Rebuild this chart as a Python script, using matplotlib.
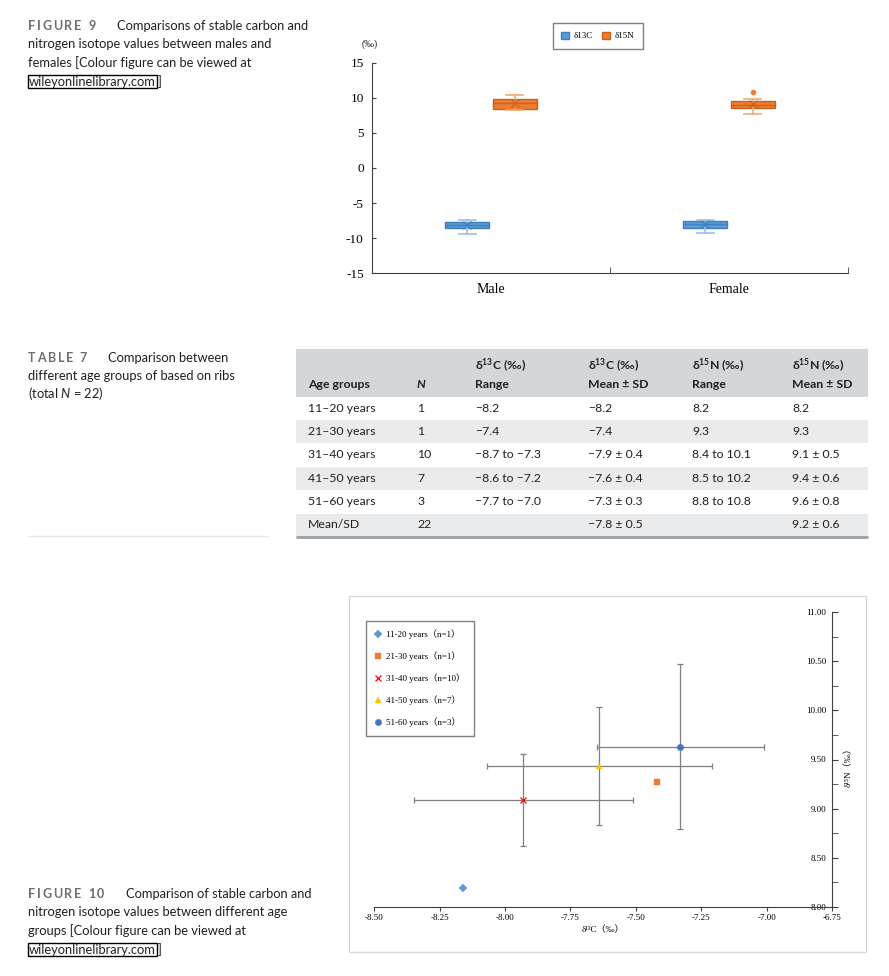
import numpy as np
import matplotlib
matplotlib.use("Agg")
import matplotlib.pyplot as plt
from matplotlib.patches import Rectangle, Patch
from matplotlib.ticker import FormatStrFormatter, MultipleLocator, FixedLocator

plt.rcParams['axes.unicode_minus'] = False
plt.rcParams['mathtext.fontset'] = 'custom'
plt.rcParams['mathtext.rm'] = 'Lato'
plt.rcParams['mathtext.it'] = 'Lato:italic'
plt.rcParams['mathtext.bf'] = 'Lato:bold'

W, H = 889, 976
SANS = ['Lato', 'DejaVu Sans']
SERIF = ['Liberation Serif', 'Noto Sans CJK SC', 'DejaVu Serif']
INK = '#231f20'
BLUE, ORANGE = '#5B9BD5', '#ED7D31'

# ── Figure 9: box stats per sex ──
sexes = ["Male", "Female"]
c13_q1 = [-8.59, -8.50]
c13_med = [-8.12, -7.98]
c13_q3 = [-7.65, -7.59]
c13_lo = [-9.40, -9.22]
c13_hi = [-7.45, -7.45]
c13_mean = [-8.10, -8.02]
n15_q1 = [8.45, 8.59]
n15_med = [9.30, 9.02]
n15_q3 = [9.79, 9.50]
n15_lo = [8.22, 7.65]
n15_hi = [10.44, 9.79]
n15_mean = [9.21, 9.10]
n15_fliers = [[], [10.83]]

# ── Table 7 ──
age_groups = ["11–20 years", "21–30 years", "31–40 years", "41–50 years", "51–60 years", "Mean/SD"]
n_vals = ["1", "1", "10", "7", "3", "22"]
c_range = ["−8.2", "−7.4", "−8.7 to −7.3", "−8.6 to −7.2", "−7.7 to −7.0", ""]
c_mean = ["−8.2", "−7.4", "−7.9 ± 0.4", "−7.6 ± 0.4", "−7.3 ± 0.3", "−7.8 ± 0.5"]
n_range = ["8.2", "9.3", "8.4 to 10.1", "8.5 to 10.2", "8.8 to 10.8", ""]
n_mean = ["8.2", "9.3", "9.1 ± 0.5", "9.4 ± 0.6", "9.6 ± 0.8", "9.2 ± 0.6"]

# ── Figure 10: group means and SDs ──
grp_labels = ["11-20 years（n=1）", "21-30 years（n=1）", "31-40 years（n=10）",
              "41-50 years（n=7）", "51-60 years（n=3）"]
grp_c13 = [-8.16, -7.42, -7.93, -7.64, -7.33]
grp_n15 = [8.19, 9.27, 9.09, 9.435, 9.63]
grp_c13_sd = [0, 0, 0.42, 0.43, 0.32]
grp_n15_sd = [0, 0, 0.47, 0.60, 0.84]
grp_markers = ['D', 's', 'x', '^', 'o']
grp_colors = ['#5B9BD5', '#ED7D31', '#FF0000', '#FFC000', '#4472C4']

fig = plt.figure(figsize=(W / 100, H / 100), dpi=100)
fig.patch.set_facecolor('white')

# page layer in pixel coordinates
ax0 = fig.add_axes([0, 0, 1, 1])
ax0.set_xlim(0, W)
ax0.set_ylim(H, 0)
ax0.axis('off')

CAP_FS = 9.3


def spaced(x, y, s, gap=1.3, **kw):
    t = ax0.text(x, y, s[0], va='center', ha='left', **kw)
    for ch in s[1:]:
        t = ax0.annotate(ch, xy=(1, 0.5), xycoords=t, xytext=(gap, 0),
                         textcoords='offset points', va='center', ha='left', **kw)
    return t


def caption(y, label, first, x_first, lines, step=18.5):
    spaced(28, y, label, family=SANS, fontsize=9, fontweight='bold', color='#6d6e71')
    ax0.text(x_first, y, first, va='center', ha='left', family=SANS, fontsize=CAP_FS, color=INK)
    for k, ln in enumerate(lines, start=1):
        ax0.text(28, y + k * step, ln, va='center', ha='left', family=SANS, fontsize=CAP_FS,
                 color=INK)


caption(26, "FIGURE 9", "Comparisons of stable carbon and", 117,
        ["nitrogen isotope values between males and",
         "females [Colour figure can be viewed at"])
caption(894, "FIGURE 10", "Comparison of stable carbon and", 126,
        ["nitrogen isotope values between different age",
         "groups [Colour figure can be viewed at"])
caption(358, "TABLE 7", "Comparison between", 108,
        ["different age groups of based on ribs", "(total $N$ = 22)"], step=18)

for yy in (81.5, 949.5):
    t = ax0.text(29, yy, "wileyonlinelibrary.com", va='center', ha='left', family=SANS,
                 fontsize=CAP_FS, color=INK,
                 bbox=dict(boxstyle='square,pad=0.05', facecolor='none', edgecolor='black', lw=1))
    ax0.annotate("]", xy=(1, 0.5), xycoords=t, xytext=(1, 0), textcoords='offset points',
                 va='center', ha='left', family=SANS, fontsize=CAP_FS, color=INK)

# ── Table 7 drawn on the page layer ──
tl, tr = 296, 868
ax0.add_patch(Rectangle((tl, 349), tr - tl, 47.5, facecolor='#d4d7da', edgecolor='none'))
row_h = 23.4
for i in range(len(age_groups)):
    if i % 2 == 1:
        ax0.add_patch(Rectangle((tl, 396.5 + i * row_h), tr - tl, row_h,
                                facecolor='#e9ebed', edgecolor='none'))
ax0.plot([tl, tr], [537, 537], color='#9aa0a6', lw=2, solid_capstyle='butt')
ax0.plot([28, 268], [536, 536], color='#e8e8e8', lw=1)

TAB_FS = 8.8
col_x = [308, 417, 475, 588, 692, 792]
hdr1 = ["", "", r"δ$^{\mathbf{13}}$C (‰)", r"δ$^{\mathbf{13}}$C (‰)",
        r"δ$^{\mathbf{15}}$N (‰)", r"δ$^{\mathbf{15}}$N (‰)"]
hdr2 = ["Age groups", "N", "Range", "Mean ± SD", "Range", "Mean ± SD"]
for x, h1, h2 in zip(col_x, hdr1, hdr2):
    ax0.text(x, 366, h1, va='center', ha='left', family=SANS, fontsize=TAB_FS,
             fontweight='bold', color=INK)
    ax0.text(x, 384, h2, va='center', ha='left', family=SANS, fontsize=TAB_FS,
             fontweight='bold', color=INK, style='italic' if h2 == "N" else 'normal')
columns = [age_groups, n_vals, c_range, c_mean, n_range, n_mean]
for i in range(len(age_groups)):
    for x, col in zip(col_x, columns):
        ax0.text(x, 408 + i * row_h, col[i], va='center', ha='left', family=SANS,
                 fontsize=TAB_FS, color=INK)

# figure 10 frame
ax0.add_patch(Rectangle((349, 596), 866 - 349, 952 - 596, facecolor='none',
                        edgecolor='#d9d9d9', lw=1))

# ── Figure 9: box plot ──
ax1 = fig.add_axes([372 / W, 1 - 273.3 / H, 476 / W, 210.6 / H])
ax1.patch.set_alpha(0)
pos = np.arange(1, len(sexes) + 1)


def stats(q1, med, q3, lo, hi, mean, fl=None):
    return [dict(q1=q1[i], med=med[i], q3=q3[i], whislo=lo[i], whishi=hi[i], mean=mean[i],
                 fliers=(fl[i] if fl else [])) for i in range(len(q1))]


for st, off, fc, ec, wc in [
        (stats(c13_q1, c13_med, c13_q3, c13_lo, c13_hi, c13_mean), -0.1, BLUE, '#3f7fc0', '#9cbfe3'),
        (stats(n15_q1, n15_med, n15_q3, n15_lo, n15_hi, n15_mean, n15_fliers), 0.1, ORANGE, '#c8621c', '#f0a97a')]:
    ax1.bxp(st, positions=pos + off, widths=0.185, capwidths=0.07, patch_artist=True,
            showmeans=True, manage_ticks=False,
            boxprops=dict(facecolor=fc, edgecolor=ec, lw=1),
            medianprops=dict(color=ec, lw=1),
            whiskerprops=dict(color=wc, lw=1.2),
            capprops=dict(color=wc, lw=1.2),
            meanprops=dict(marker='x', markeredgecolor=ec, markersize=6, markeredgewidth=0.8),
            flierprops=dict(marker='o', markerfacecolor=fc, markeredgecolor='none', markersize=4))

ax1.set_xlim(0.5, 2.5)
ax1.set_ylim(-15, 15)
ax1.set_yticks(np.arange(-15, 16, 5))
ax1.set_xticks(pos)
ax1.set_xticklabels(sexes, family=SERIF, fontsize=10)
ax1.xaxis.set_minor_locator(FixedLocator([1.5, 2.5]))
ax1.tick_params(axis='x', which='major', length=0, pad=7)
ax1.tick_params(axis='x', which='minor', length=4, direction='in', color='#404040')
ax1.tick_params(axis='y', length=3, direction='in', color='#404040', pad=6)
for lb in ax1.get_yticklabels():
    lb.set_family(SERIF)
    lb.set_fontsize(9.5)
for s in ('top', 'right'):
    ax1.spines[s].set_visible(False)
for s in ('left', 'bottom'):
    ax1.spines[s].set_color('#404040')
    ax1.spines[s].set_linewidth(0.8)
ax0.text(370, 44, "(‰)", ha='center', va='center', family=SERIF, fontsize=7, color=INK)

fig.legend(handles=[Patch(facecolor=BLUE, edgecolor='#3f7fc0'),
                    Patch(facecolor=ORANGE, edgecolor='#c8621c')],
           labels=["δ13C", "δ15N"], ncol=2, loc='center',
           bbox_to_anchor=(598 / W, 1 - 36 / H), fancybox=False, edgecolor='#808080',
           framealpha=1, prop=dict(family=SERIF, size=6.5), handlelength=0.9,
           handleheight=0.9, columnspacing=1.0, handletextpad=0.5, borderpad=0.9)

# ── Figure 10: scatter with error bars ──
ax2 = fig.add_axes([374.3 / W, 1 - 906.7 / H, (832 - 374.3) / W, (906.7 - 612.3) / H])
ax2.patch.set_alpha(0)
for i in range(len(grp_labels)):
    if grp_c13_sd[i] > 0:
        ax2.errorbar(grp_c13[i], grp_n15[i], xerr=grp_c13_sd[i], yerr=grp_n15_sd[i], fmt='none',
                     ecolor='#7f7f7f', elinewidth=0.9, capsize=2, capthick=0.9, zorder=2)
handles = []
for i in range(len(grp_labels)):
    mk = grp_markers[i]
    ms = 3.6 if mk == 'D' else 4.6
    h, = ax2.plot(grp_c13[i], grp_n15[i], linestyle='none', marker=mk, markersize=ms,
                  color=grp_colors[i], markeredgewidth=0.9 if mk == 'x' else 0.3, zorder=3)
    handles.append(h)

ax2.set_xlim(-8.5, -6.75)
ax2.set_ylim(8, 11)
ax2.set_xticks(np.arange(-8.5, -6.74, 0.25))
ax2.set_yticks(np.arange(8, 11.01, 0.5))
ax2.yaxis.set_minor_locator(MultipleLocator(0.25))
ax2.xaxis.set_major_formatter(FormatStrFormatter('%.2f'))
ax2.yaxis.set_major_formatter(FormatStrFormatter('%.2f'))
ax2.spines['left'].set_position(('data', -6.75))
for s in ('top', 'right'):
    ax2.spines[s].set_visible(False)
for s in ('left', 'bottom'):
    ax2.spines[s].set_color('#404040')
    ax2.spines[s].set_linewidth(0.8)
ax2.tick_params(axis='y', which='both', direction='in', length=4, color='#404040', pad=4)
ax2.tick_params(axis='x', direction='out', length=3, color='#404040', pad=2)
for lb in ax2.get_xticklabels() + ax2.get_yticklabels():
    lb.set_family(SERIF)
    lb.set_fontsize(6.5)
ax2.set_xlabel("δ¹³C（‰）", family=SERIF, fontsize=6.5, labelpad=3)
ax2.text(1.035, 0.48, "δ¹⁵N（‰）", transform=ax2.transAxes, rotation=90, ha='center',
         va='center', family=SERIF, fontsize=6.5)

fig.legend(handles=handles, labels=grp_labels, loc='upper left',
           bbox_to_anchor=(361 / W, 1 - 616 / H), fancybox=False, edgecolor='#808080',
           framealpha=1, prop=dict(family=SERIF, size=6.5), handlelength=0.8,
           handletextpad=0.5, labelspacing=1.35, borderpad=1.0)

fig.savefig("out.png", dpi=100, facecolor='white')
